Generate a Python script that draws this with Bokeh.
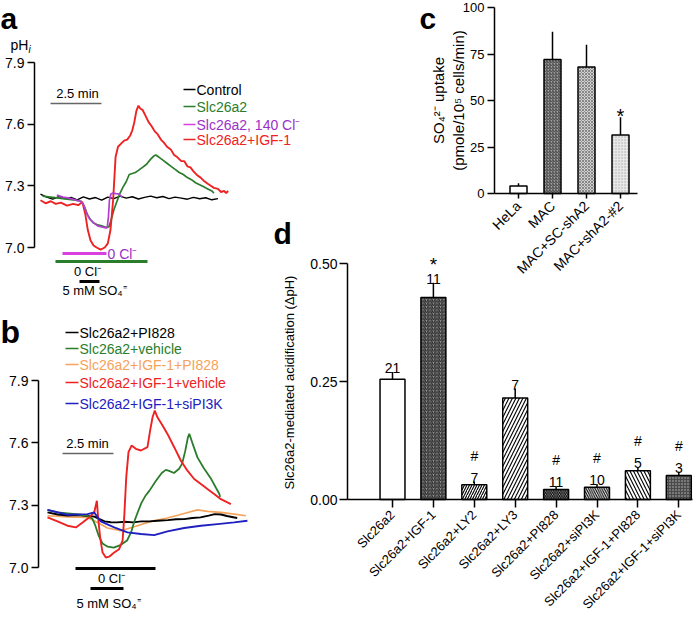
import math
from bokeh.plotting import figure
from bokeh.layouts import row, column
from bokeh.models import Range1d, FixedTicker, NumeralTickFormatter, Label, ColumnDataSource
from bokeh.embed import file_html
from bokeh.resources import INLINE
from bokeh.core.properties import value

FONT = "Liberation Sans"

# ---------------- panel a traces (time in min, pHi) ----------------
a_ctrl_t = [0.0, 0.3, 0.6, 0.9, 1.2, 1.5, 1.8, 2.1, 2.4, 2.7, 3.0, 3.3, 3.6, 3.9, 4.2, 4.5,
            4.8, 5.1, 5.4, 5.7, 6.0, 6.3, 6.6, 6.9, 7.2, 7.5, 7.8, 8.1, 8.4, 8.7]
a_ctrl_ph = [7.26, 7.245, 7.235, 7.248, 7.238, 7.244, 7.232, 7.246, 7.236, 7.243, 7.23, 7.245,
             7.238, 7.25, 7.24, 7.247, 7.236, 7.244, 7.25, 7.242, 7.248, 7.238, 7.245, 7.24,
             7.235, 7.244, 7.237, 7.242, 7.232, 7.238]
a_slc_t = [0.1, 0.5, 0.9, 1.3, 1.7, 2.0, 2.15, 2.3, 2.45, 2.6, 2.8, 3.0, 3.2, 3.35, 3.45, 3.6,
           3.75, 3.9, 4.05, 4.2, 4.35, 4.5, 4.65, 4.8, 5.0, 5.2, 5.4, 5.55, 5.65, 5.8, 6.0, 6.2,
           6.4, 6.6, 6.8, 7.0, 7.2, 7.4, 7.6, 7.8, 8.0, 8.2, 8.4, 8.5]
a_slc_ph = [7.25, 7.245, 7.24, 7.235, 7.23, 7.225, 7.2, 7.16, 7.135, 7.12, 7.11, 7.105, 7.098,
            7.1, 7.13, 7.185, 7.225, 7.265, 7.295, 7.32, 7.355, 7.36, 7.365, 7.375, 7.39, 7.405,
            7.43, 7.445, 7.45, 7.44, 7.425, 7.41, 7.395, 7.38, 7.365, 7.355, 7.34, 7.33, 7.315,
            7.305, 7.295, 7.285, 7.275, 7.265]
a_cl_t = [0.8, 1.1, 1.4, 1.7, 1.95, 2.1, 2.25, 2.4, 2.6, 2.8, 3.0, 3.15, 3.27, 3.33, 3.38, 3.45,
          3.55, 3.7, 3.85, 4.0]
a_cl_ph = [7.255, 7.245, 7.24, 7.232, 7.225, 7.21, 7.17, 7.14, 7.12, 7.105, 7.1, 7.097, 7.095,
           7.15, 7.23, 7.26, 7.265, 7.262, 7.26, 7.245]
a_igf_t = [0.0, 0.25, 0.5, 0.75, 1.0, 1.3, 1.6, 1.85, 2.05, 2.2, 2.32, 2.45, 2.6, 2.75, 2.95,
           3.15, 3.3, 3.43, 3.56, 3.68, 3.8, 3.95, 4.1, 4.25, 4.4, 4.5, 4.6, 4.7, 4.8, 4.9, 5.0,
           5.15, 5.3, 5.45, 5.6, 5.75, 5.9, 6.05, 6.2, 6.4, 6.55, 6.7, 6.9, 7.05, 7.2, 7.35, 7.5,
           7.7, 7.85, 8.0, 8.2, 8.35, 8.5, 8.7, 8.85, 9.0, 9.1, 9.2]
a_igf_ph = [7.23, 7.215, 7.225, 7.212, 7.218, 7.204, 7.212, 7.206, 7.222, 7.16, 7.085, 7.035,
            7.01, 7.0, 6.99, 7.0, 7.02, 7.085, 7.23, 7.44, 7.49, 7.505, 7.52, 7.525, 7.545, 7.57,
            7.61, 7.665, 7.69, 7.675, 7.67, 7.64, 7.61, 7.59, 7.565, 7.55, 7.525, 7.51, 7.49,
            7.475, 7.45, 7.44, 7.42, 7.42, 7.395, 7.39, 7.37, 7.35, 7.34, 7.325, 7.31, 7.3, 7.29,
            7.285, 7.27, 7.275, 7.265, 7.275]
a_names = ["Control", "Slc26a2", "Slc26a2, 140 Cl\u207b", "Slc26a2+IGF-1"]

# ---------------- panel b traces ----------------
b_pi_t = [0, 0.5, 1.0, 1.5, 1.96, 2.3, 2.5, 2.8, 3.1, 3.4, 3.8, 4.2, 4.6, 5.0, 5.4, 5.9, 6.3,
          6.7, 7.1, 7.5, 7.9, 8.2, 8.5, 8.8, 9.1, 9.3]
b_pi_ph = [7.265, 7.255, 7.25, 7.252, 7.248, 7.245, 7.235, 7.222, 7.218, 7.217, 7.22, 7.217,
           7.222, 7.222, 7.225, 7.228, 7.232, 7.233, 7.238, 7.241, 7.25, 7.257, 7.255, 7.248,
           7.242, 7.238]
b_veh_t = [0, 0.5, 1.0, 1.5, 1.96, 2.2, 2.35, 2.5, 2.7, 2.95, 3.25, 3.6, 3.9, 4.1, 4.25, 4.4,
           4.6, 4.8, 5.0, 5.3, 5.6, 5.8, 5.96, 6.2, 6.45, 6.6, 6.75, 6.88, 6.95, 7.1, 7.35, 7.65,
           8.0, 8.25, 8.42, 8.46]
b_veh_ph = [7.277, 7.265, 7.26, 7.255, 7.249, 7.235, 7.2, 7.155, 7.115, 7.1, 7.096, 7.109, 7.13,
            7.17, 7.22, 7.26, 7.31, 7.345, 7.37, 7.415, 7.455, 7.47, 7.465, 7.455, 7.475, 7.5,
            7.56, 7.625, 7.643, 7.6, 7.53, 7.48, 7.43, 7.385, 7.355, 7.34]
b_igfpi_t = [0, 0.98, 1.96, 2.45, 2.94, 3.59, 4.25, 5.07, 5.88, 6.7, 7.35, 7.84, 8.5, 9.15, 9.72]
b_igfpi_ph = [7.249, 7.244, 7.241, 7.217, 7.19, 7.177, 7.196, 7.222, 7.238, 7.26, 7.277, 7.27,
              7.265, 7.257, 7.249]
b_igfveh_t = [0, 0.49, 0.98, 1.39, 1.72, 2.04, 2.29, 2.42, 2.48, 2.58, 2.7, 2.86, 3.02, 3.27,
              3.51, 3.68, 3.76, 3.86, 3.97, 4.12, 4.33, 4.58, 4.9, 5.03, 5.15, 5.26, 5.39, 5.64,
              5.88, 6.21, 6.54, 6.86, 7.19, 7.52, 7.84, 8.17, 8.5, 8.82, 8.99]
b_igfveh_ph = [7.241, 7.222, 7.201, 7.193, 7.217, 7.241, 7.265, 7.321, 7.241, 7.145, 7.072,
               7.048, 7.052, 7.072, 7.088, 7.129, 7.241, 7.434, 7.555, 7.587, 7.571, 7.563,
               7.579, 7.659, 7.723, 7.755, 7.723, 7.683, 7.643, 7.579, 7.514, 7.466, 7.426,
               7.402, 7.378, 7.354, 7.329, 7.313, 7.305]
b_si_t = [0, 0.98, 1.96, 2.29, 2.61, 3.27, 3.92, 4.58, 5.23, 5.88, 6.7, 7.52, 8.33, 9.15, 9.8]
b_si_ph = [7.277, 7.254, 7.257, 7.265, 7.222, 7.193, 7.169, 7.161, 7.156, 7.174, 7.19, 7.201,
           7.209, 7.217, 7.225]
b_names = ["Slc26a2+PI828", "Slc26a2+vehicle", "Slc26a2+IGF-1+PI828", "Slc26a2+IGF-1+vehicle",
           "Slc26a2+IGF-1+siPI3K"]
ph_ticks = [7.0, 7.3, 7.6, 7.9]

# ---------------- panel c ----------------
c_cats = ["HeLa", "MAC", "MAC+SC-shA2", "MAC+shA2-#2"]
c_vals = [4.0, 72.0, 68.0, 31.5]
c_err = [1.5, 15.0, 12.0, 9.5]
c_sig = ["", "", "", "*"]
c_ticks = [0, 25, 50, 75, 100]

# ---------------- panel d ----------------
d_cats = ["Slc26a2", "Slc26a2+IGF-1", "Slc26a2+LY2", "Slc26a2+LY3", "Slc26a2+PI828",
          "Slc26a2+siPI3K", "Slc26a2+IGF-1+PI828", "Slc26a2+IGF-1+siPI3K"]
d_vals = [0.255, 0.428, 0.031, 0.215, 0.021, 0.026, 0.061, 0.051]
d_err = [0.015, 0.031, 0.007, 0.02, 0.007, 0.007, 0.007, 0.008]
d_n = ["21", "11", "7", "7", "11", "10", "5", "3"]
d_sig = ["", "*", "#", "", "#", "#", "#", "#"]
d_ticks = [0.0, 0.25, 0.5]

# ---------------- styles ----------------
GREEN = "#2a7d2a"
PURPLE = "#b040d0"
PURPLE_TXT = "#9b30c8"
MAGENTA = "#d840e0"
RED = "#ee2222"
ORANGE = "#f5a35a"
BLUE = "#2020c0"
c_fill = ["white", "#a0a0a0", "#d0d0d0", "#e8e8e8"]
c_hatch = [" ", "/", "x", "."]
c_hatch_color = ["black", "#404040", "#888888", "#aaaaaa"]
c_hatch_scale = [4, 3, 3, 3]
d_fill = ["white", "#9a9a9a", "white", "white", "#c4c4c4", "white", "white", "#4a4a4a"]
d_hatch = [" ", "/", "/", "/", "\\", "\\", "\\", "."]
d_hatch_color = ["black", "#222222", "black", "black", "black", "black", "black", "#c0c0c0"]
d_hatch_scale = [4, 3.5, 5, 7, 3.5, 4.5, 7, 3]


def make_fig(w, h, xr, yr, show_x=True):
    p = figure(width=w, height=h, x_range=Range1d(*xr), y_range=Range1d(*yr),
               output_backend="svg", toolbar_location=None,
               x_axis_location=("below" if show_x else None),
               min_border_left=0, min_border_right=0, min_border_top=0, min_border_bottom=0)
    p.grid.visible = False
    p.outline_line_color = None
    p.background_fill_alpha = 0
    p.border_fill_alpha = 0
    for ax in p.axis:
        ax.axis_line_width = 1.5
        ax.axis_line_color = "black"
        ax.major_tick_line_width = 1.5
        ax.major_tick_line_color = "black"
        ax.major_tick_in = 0
        ax.major_tick_out = 7
        ax.minor_tick_line_color = None
        ax.major_label_text_font = FONT
        ax.major_label_text_font_size = "14px"
        ax.major_label_text_color = "black"
    return p


def lab(p, x, y, text, size=14, color="black", align="left", baseline="middle",
        style="normal", angle=0.0):
    p.add_layout(Label(x=x, y=y, text=text, text_font=FONT, text_font_size=f"{size}px",
                       text_color=color, text_align=align, text_baseline=baseline,
                       text_font_style=style, angle=angle))


def hbar(p, x0, x1, y, color, w):
    p.segment(x0=[x0], y0=[y], x1=[x1], y1=[y], line_color=color, line_width=w)


# ================= panel a =================
def AX(px):
    return (px - 40) / 20.4


def AY(py):
    return 7.9 - (py - 62) * 0.9 / 185


fa = make_fig(310, 298, (AX(0), AX(310)), (AY(298), AY(0)), show_x=False)
fa.yaxis.fixed_location = AX(34)
fa.yaxis.ticker = FixedTicker(ticks=ph_ticks)
fa.yaxis.formatter = NumeralTickFormatter(format="0.0")
fa.yaxis.bounds = (7.0, 7.9)
fa.yaxis.major_label_standoff = 3
fa.line(a_ctrl_t, a_ctrl_ph, line_color="black", line_width=1.4)
fa.line(a_slc_t, a_slc_ph, line_color=GREEN, line_width=1.7)
fa.line(a_igf_t, a_igf_ph, line_color=RED, line_width=1.9)
fa.line(a_cl_t, a_cl_ph, line_color=PURPLE, line_width=1.7)

lab(fa, AX(0), AY(1), "a", 30, style="bold", baseline="top")
lab(fa, AX(10), AY(44), "pH", 14)
lab(fa, AX(28), AY(49), "i", 10, style="italic")
for yy, txt, col in zip([89, 106, 124, 139], a_names, ["black", GREEN, PURPLE_TXT, RED]):
    hbar(fa, AX(183), AX(195), AY(yy), col if col != PURPLE_TXT else MAGENTA, 1.5)
    lab(fa, AX(196), AY(yy), txt, 14, col)
lab(fa, AX(77), AY(93), "2.5 min", 13, align="center")
hbar(fa, AX(50), AX(101), AY(103), "#666666", 1.5)
hbar(fa, AX(62), AX(106), AY(253), MAGENTA, 3)
lab(fa, AX(107), AY(253), "0 Cl\u207b", 14, PURPLE_TXT)
hbar(fa, AX(55), AX(147), AY(261), GREEN, 3)
lab(fa, AX(87), AY(271), "0 Cl\u207b", 13, align="center")
hbar(fa, AX(79), AX(99), AY(281), "black", 3)
lab(fa, AX(94), AY(290), "5 mM SO\u2084\u207c", 13, align="center")

# ================= panel b =================
def BX(px):
    return (px - 47) / 20.4


def BY(ry):
    return 7.9 - (ry - 380) * 0.9 / 187


fb = make_fig(272, 325, (BX(0), BX(272)), (BY(623), BY(298)), show_x=False)
fb.yaxis.fixed_location = BX(38)
fb.yaxis.ticker = FixedTicker(ticks=ph_ticks)
fb.yaxis.formatter = NumeralTickFormatter(format="0.0")
fb.yaxis.bounds = (7.0, 7.9)
fb.yaxis.major_label_standoff = 3
fb.line(b_igfpi_t, b_igfpi_ph, line_color=ORANGE, line_width=1.7)
fb.line(b_pi_t, b_pi_ph, line_color="black", line_width=1.9)
fb.line(b_veh_t, b_veh_ph, line_color=GREEN, line_width=1.8)
fb.line(b_igfveh_t, b_igfveh_ph, line_color=RED, line_width=1.9)
fb.line(b_si_t, b_si_ph, line_color=BLUE, line_width=1.9)

lab(fb, BX(0), BY(331), "b", 32, style="bold", baseline="alphabetic")
for yy, txt, col in zip([332, 348, 364, 382, 403], b_names, ["black", GREEN, ORANGE, RED, BLUE]):
    hbar(fb, BX(65), BX(78), BY(yy), col, 1.5)
    lab(fb, BX(79), BY(yy), txt, 14, col)
lab(fb, BX(87), BY(443), "2.5 min", 13, align="center")
hbar(fb, BX(62), BX(113), BY(453), "#666666", 1.5)
hbar(fb, BX(75), BX(155), BY(568), "black", 3)
lab(fb, BX(111), BY(578), "0 Cl\u207b", 13, align="center")
hbar(fb, BX(90), BX(123), BY(588), "black", 3)
lab(fb, BX(108), BY(603), "5 mM SO\u2084\u207c", 13, align="center")

# ================= panel c =================
def CX(rx):
    return 1 + (rx - 518) / 34


def CY(ry):
    return (193 - ry) / 1.86


fc = make_fig(428, 280, (CX(272), CX(700)), (CY(280), CY(0)))
c_pos = list(range(1, len(c_cats) + 1))
fc.xaxis.fixed_location = 0
fc.xaxis.bounds = (CX(494), CX(637))
fc.xaxis.ticker = FixedTicker(ticks=c_pos)
fc.xaxis.major_label_overrides = {p: c for p, c in zip(c_pos, c_cats)}
fc.xaxis.major_label_orientation = math.pi / 4
fc.xaxis.major_tick_out = 5
fc.yaxis.fixed_location = CX(494)
fc.yaxis.ticker = FixedTicker(ticks=c_ticks)
fc.yaxis.formatter = NumeralTickFormatter(format="0")
fc.yaxis.bounds = (0, 100)
fc.yaxis.major_label_text_font_size = "13px"
fc.yaxis.major_label_standoff = 3
c_top = [v + e for v, e in zip(c_vals, c_err)]
csrc = ColumnDataSource(dict(x=c_pos, top=c_vals, etop=c_top, fill=c_fill, hatch=c_hatch,
                             hcol=c_hatch_color, hsc=c_hatch_scale))
fc.segment(x0="x", y0="top", x1="x", y1="etop", source=csrc, line_color="black", line_width=1.5)
fc.vbar(x="x", top="top", bottom=0, width=0.5, source=csrc, fill_color="fill",
        line_color="black", line_width=1.5, hatch_pattern="hatch", hatch_color="hcol",
        hatch_scale="hsc", hatch_weight=1)
for p_, t_, s_ in zip(c_pos, c_top, c_sig):
    if s_:
        fc.text(x=[p_], y=[t_], text=[s_], text_font=value(FONT), text_font_size="20px",
                text_align="center", text_baseline="alphabetic", y_offset=-1)
lab(fc, CX(419), CY(1), "c", 30, style="bold", baseline="top")
lab(fc, CX(438), 50, "SO\u2084\u00b2\u207b uptake", 15, align="center", angle=math.pi / 2)
lab(fc, CX(458), 50, "(pmole/10\u2075 cells/min)", 15, align="center", angle=math.pi / 2)

# ================= panel d =================
def DX(rx):
    return 1 + (rx - 392) / 40.9


def DY(ry):
    return (499 - ry) * 0.5 / 236


fd = make_fig(428, 408, (DX(272), DX(700)), (DY(623), DY(215)))
d_pos = list(range(1, len(d_cats) + 1))
fd.xaxis.fixed_location = 0
fd.xaxis.bounds = (DX(347), DX(692))
fd.xaxis.ticker = FixedTicker(ticks=d_pos)
fd.xaxis.major_label_overrides = {p: c for p, c in zip(d_pos, d_cats)}
fd.xaxis.major_label_orientation = math.pi / 4
fd.xaxis.major_label_text_font_size = "13px"
fd.xaxis.major_tick_out = 8
fd.yaxis.fixed_location = DX(347)
fd.yaxis.ticker = FixedTicker(ticks=d_ticks)
fd.yaxis.formatter = NumeralTickFormatter(format="0.00")
fd.yaxis.bounds = (0, 0.5)
fd.yaxis.major_tick_out = 8
fd.yaxis.major_label_standoff = 2
d_top = [v + e for v, e in zip(d_vals, d_err)]
dsrc = ColumnDataSource(dict(x=d_pos, top=d_vals, etop=d_top, n=d_n, fill=d_fill, hatch=d_hatch,
                             hcol=d_hatch_color, hsc=d_hatch_scale))
fd.segment(x0="x", y0="top", x1="x", y1="etop", source=dsrc, line_color="black", line_width=1.5)
fd.vbar(x="x", top="top", bottom=0, width=0.61, source=dsrc, fill_color="fill",
        line_color="black", line_width=1.5, hatch_pattern="hatch", hatch_color="hcol",
        hatch_scale="hsc", hatch_weight=1.1)
fd.text(x="x", y="etop", text="n", source=dsrc, text_font=value(FONT), text_font_size="14px",
        text_align="center", text_baseline="alphabetic", y_offset=-4)
for p_, t_, s_ in zip(d_pos, d_top, d_sig):
    if s_ == "*":
        fd.text(x=[p_], y=[t_], text=[s_], text_font=value(FONT), text_font_size="19px",
                text_align="center", text_baseline="alphabetic", y_offset=-18)
    elif s_:
        fd.text(x=[p_], y=[t_], text=[s_], text_font=value(FONT), text_font_size="14px",
                text_align="center", text_baseline="alphabetic", y_offset=-26)
lab(fd, DX(273), DY(216), "d", 30, style="bold", baseline="top")
lab(fd, DX(289), DY(382), "Slc26a2-mediated acidification (\u0394pH)", 13, align="center",
    angle=math.pi / 2)
fd.margin = (-65, 0, 0, 0)

left = column(fa, fb)
right = column(fc, fd)
right.margin = (0, 0, 0, -38)
root = row(left, right)

with open("out.html", "w") as f:
    f.write(file_html(root, INLINE))
